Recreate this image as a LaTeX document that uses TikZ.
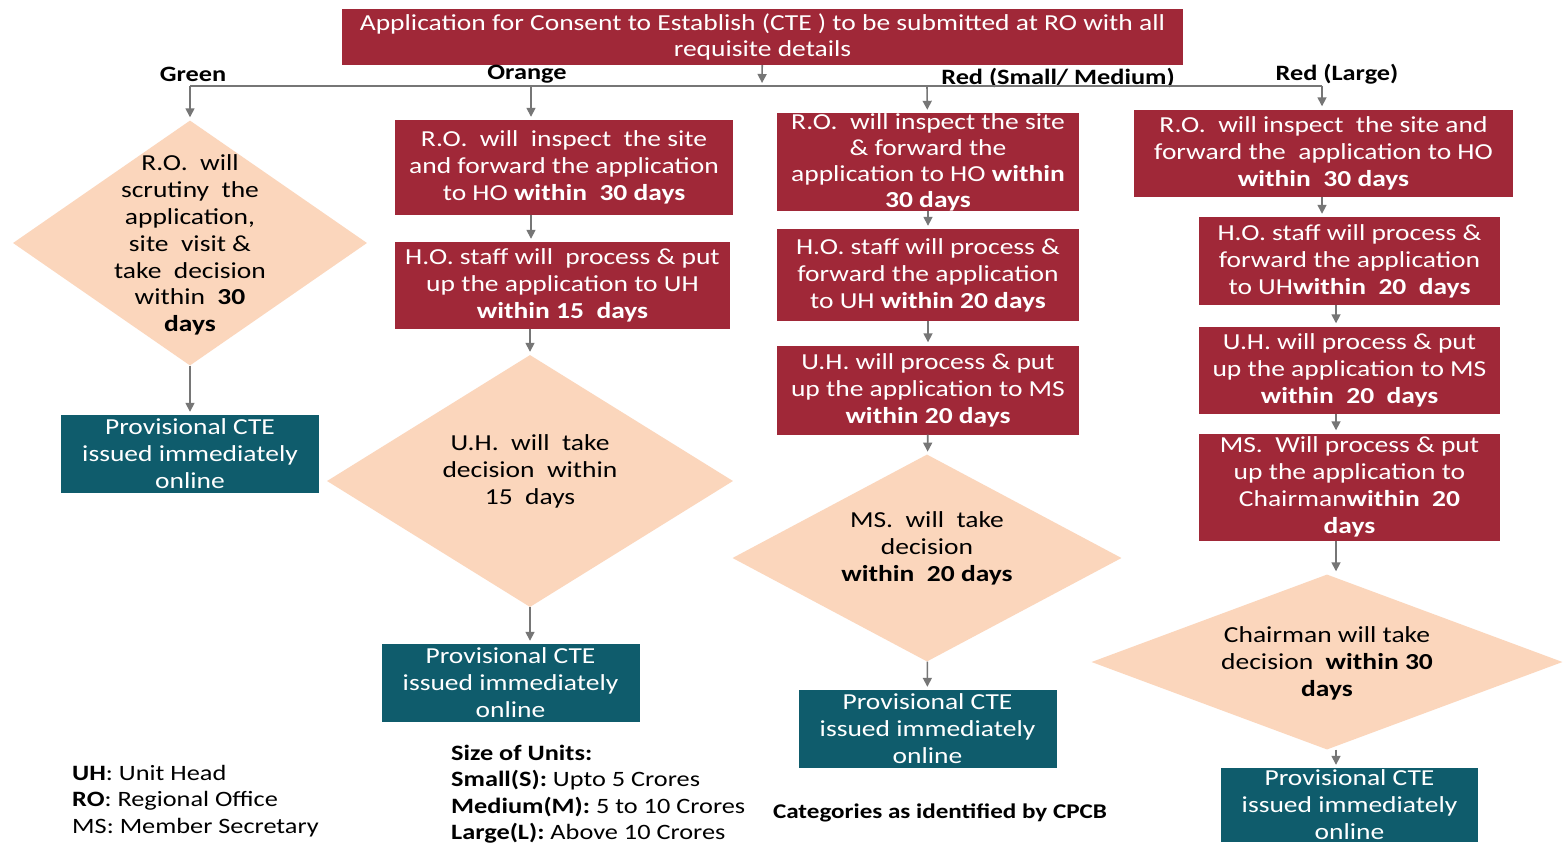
\documentclass[tikz,border=0pt]{standalone}
\usepackage{fontspec}
\setmainfont{Carlito}[FakeStretch=1.2]
\usetikzlibrary{shapes.geometric,arrows.meta,positioning}
\definecolor{cteRed}{RGB}{160,40,56}
\definecolor{cteTeal}{RGB}{15,92,108}
\definecolor{ctePeach}{RGB}{251,214,188}
\definecolor{cteGrey}{RGB}{118,118,118}

\tikzset{
  redbox/.style={rectangle, fill=cteRed, text=white, align=center, inner sep=0pt,
    font=\fontsize{23}{27}\selectfont},
  tealbox/.style={rectangle, fill=cteTeal, text=white, align=center, inner sep=0pt,
    minimum width=258bp, minimum height=78bp, font=\fontsize{23}{27}\selectfont},
  dia/.style={diamond, fill=ctePeach, inner sep=0pt},
  diatext/.style={align=center, inner sep=0pt, font=\fontsize{23}{27}\selectfont},
  flow/.style={draw=cteGrey, line width=1.6bp, shorten >=3bp,
    -{Triangle[length=9bp,width=9bp]}},
  bar/.style={draw=cteGrey, line width=1.6bp},
  catlabel/.style={font=\bfseries\fontsize{22}{26}\selectfont},
  legend/.style={align=left, anchor=north west, inner sep=0pt,
    font=\fontsize{22}{26.5}\selectfont}
}

\begin{document}
\begin{tikzpicture}[x=1bp,y=-1bp]
  \path[use as bounding box, fill=white] (0,0) rectangle (1563,843);

  % application box and split line
  \node[redbox, minimum width=841bp, minimum height=56bp] (top) at (762.5,37)
    {Application for Consent to Establish (CTE ) to be submitted at RO with all\\requisite details};
  \coordinate (split) at (762,86);
  \coordinate (gTop) at (190,86);
  \coordinate (oTop) at (531,86);
  \coordinate (rTop) at (927,86);
  \coordinate (lTop) at (1322,86);
  \coordinate (lx) at (1336,0);

  \node[catlabel] (gLab) at (193,74) {Green};
  \node[catlabel] (oLab) at (527,74) {Orange};
  \node[catlabel] (rLab) at (1058,78) {Red (Small/ Medium)};
  \node[catlabel] (lLab) at (1337,74) {Red (Large)};

  % green
  \node[dia, minimum width=354bp, minimum height=245bp] (gd) at (190,243) {};
  \node[diatext] (gdText) at ([yshift=-2bp]gd.center) {R.O.\ \ will\\scrutiny\ \ the\\application,\\site\ \ visit \&\\take\ \ decision\\within\ \ \textbf{30}\\\textbf{days}};
  \node[tealbox] (gt) at (190,454) {Provisional CTE\\issued immediately\\online};

  % orange
  \node[redbox, minimum width=338bp, minimum height=95bp] (o1) at (564,167.5)
    {R.O.\ \ will\ \ inspect\ \ the site\\and forward the application\\to HO \textbf{within\ \ 30 days}};
  \node[redbox, minimum width=335bp, minimum height=87bp] (o2) at (562.5,285.5)
    {H.O. staff will\ \ process \& put\\up the application to UH\\\textbf{within 15\ \ days}};
  \node[dia, minimum width=406bp, minimum height=252bp] (od) at (530,481) {};
  \node[diatext] (odText) at ([yshift=10bp]od.center) {U.H.\ \ will\ \ take\\decision\ \ within\\15\ \ days};
  \node[tealbox] (ot) at (510.5,683) {Provisional CTE\\issued immediately\\online};

  % red small / medium
  \node[redbox, minimum width=302bp, minimum height=98bp, font=\fontsize{23}{26}\selectfont] (r1) at (928,162)
    {R.O.\ \ will inspect the site\\\& forward the\\application to HO \textbf{within}\\\textbf{30 days}};
  \node[redbox, minimum width=302bp, minimum height=92bp] (r2) at (928,275)
    {H.O. staff will process \&\\forward the application\\to UH \textbf{within 20 days}};
  \node[redbox, minimum width=302bp, minimum height=89bp] (r3) at (928,390)
    {U.H. will process \& put\\up the application to MS\\\textbf{within 20 days}};
  \node[dia, minimum width=389bp, minimum height=207bp] (rd) at (927,558) {};
  \node[diatext] (rdText) at ([yshift=10bp]rd.center) {MS.\ \ will\ \ take\\decision\\\textbf{within\ \ 20 days}};
  \node[tealbox] (rt) at (927.5,729) {Provisional CTE\\issued immediately\\online};

  % red large
  \node[redbox, minimum width=379bp, minimum height=87bp] (l1) at (1323.5,153)
    {R.O.\ \ will inspect\ \ the site and\\forward the\ \ application to HO\\\textbf{within\ \ 30 days}};
  \node[redbox, minimum width=301bp, minimum height=88bp] (l2) at (1349.5,261)
    {H.O. staff will process \&\\forward the application\\to UH\textbf{within\ \ 20\ \ days}};
  \node[redbox, minimum width=301bp, minimum height=87bp] (l3) at (1349.5,370)
    {U.H. will process \& put\\up the application to MS\\\textbf{within\ \ 20\ \ days}};
  \node[redbox, minimum width=301bp, minimum height=107bp] (l4) at (1349.5,487)
    {MS.\ \ Will process \& put\\up the application to\\Chairman\textbf{within\ \ 20}\\\textbf{days}};
  \node[dia, minimum width=471bp, minimum height=175bp] (ld) at (1327,662) {};
  \node[diatext] (ldText) at ([yshift=-1bp]ld.center) {Chairman will take\\decision\ \ \textbf{within 30}\\\textbf{days}};
  \node[tealbox, minimum width=257bp, minimum height=74bp] (lt) at (1349.5,805) {Provisional CTE\\issued immediately\\online};

  % connectors
  \draw[flow] (top) -- (split);
  \draw[bar] (gTop) -- (lTop);
  \draw[flow] (gTop) -- (gd);
  \draw[flow] (gd) -- (gt);

  \draw[flow] (oTop) -- (o1.north -| oTop);
  \draw[flow] (o1.south -| oTop) -- (o2.north -| oTop);
  \draw[flow] (o2.south -| od) -- (od);
  \draw[flow] (od) -- (ot.north -| od);

  \draw[flow] (rTop) -- (r1);
  \draw[flow] (r1) -- (r2);
  \draw[flow] (r2) -- (r3);
  \draw[flow] (r3) -- (rd);
  \draw[flow] (rd) -- (rt);

  \draw[flow] (lTop) -- (l1.north -| lTop);
  \draw[flow] (l1.south -| lTop) -- (l2.north -| lTop);
  \draw[flow] (l2.south -| lx) -- (l3.north -| lx);
  \draw[flow] (l3.south -| lx) -- (l4.north -| lx);
  \draw[flow] (l4.south -| lx) -- (ld.north -| lx);
  \draw[flow] (ld.south -| lx) -- (lt.north -| lx);

  % legends
  \node[legend] (abbr) at (72,765) {\textbf{UH}: Unit Head\\\textbf{RO}: Regional Office\\MS: Member Secretary};
  \node[legend] (sizes) at (451,745) {\textbf{Size of Units:}\\\textbf{Small(S):} Upto 5 Crores\\\textbf{Medium(M):} 5 to 10 Crores\\\textbf{Large(L):} Above 10 Crores};
  \node[catlabel, font=\bfseries\fontsize{21}{24}\selectfont] (cpcb) at (940,813) {Categories as identified by CPCB};
\end{tikzpicture}
\end{document}
